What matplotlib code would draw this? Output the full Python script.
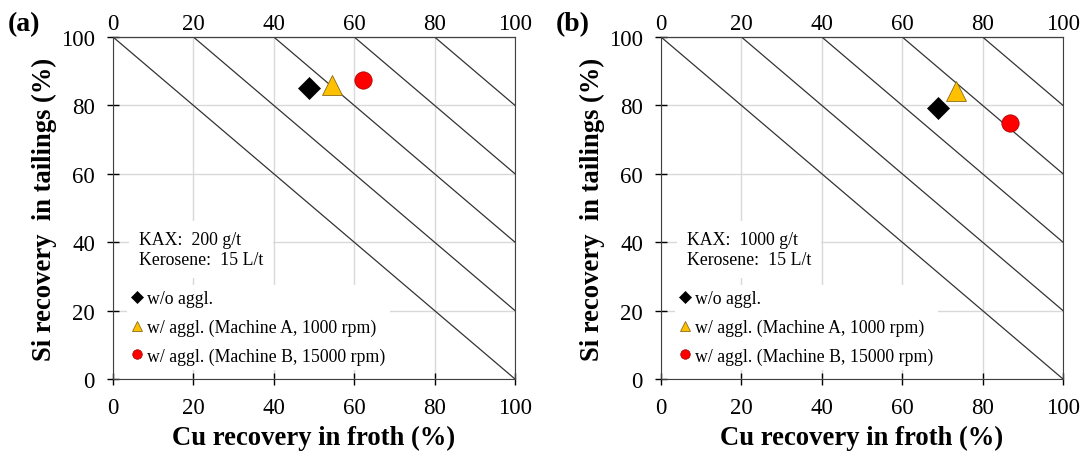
import numpy as np
from matplotlib import pyplot as plt

plt.rcParams['font.family'] = ['Liberation Serif', 'DejaVu Serif']

# data
panels = ['(a)', '(b)']
cond_text = ['KAX:  200 g/t\nKerosene:  15 L/t', 'KAX:  1000 g/t\nKerosene:  15 L/t']
labels = ['w/o aggl.', 'w/ aggl. (Machine A, 1000 rpm)', 'w/ aggl. (Machine B, 15000 rpm)']
cu_a = [48.8, 54.5, 62.2]
si_a = [85.2, 86.0, 87.4]
cu_b = [69.0, 73.5, 86.8]
si_b = [79.2, 84.2, 74.9]
diag_sums = [100, 120, 140, 160, 180]
ticks = [0, 20, 40, 60, 80, 100]

styles = [dict(marker='D', color='black', ms=11, mec='black', mew=0.5),
          dict(marker='^', color='#FFC000', ms=14, mec='#8a6d1a', mew=0.6),
          dict(marker='o', color='#FF0000', ms=12.5, mec='#a00000', mew=0.5)]

fig = plt.figure(figsize=(10.87, 4.52), dpi=100)
lefts = [113 / 1087, 661 / 1087]
w = 402 / 1087
b = 1 - 380 / 452
h = 342 / 452

for i, (cu, si) in enumerate([(cu_a, si_a), (cu_b, si_b)]):
    ax = fig.add_axes([lefts[i], b, w, h])
    ax.set_xlim(0, 100)
    ax.set_ylim(0, 100)
    ax.set_xticks(ticks)
    ax.set_yticks(ticks)
    ax.grid(color='#d9d9d9', lw=1)
    ax.set_axisbelow(True)
    for s in diag_sums:
        xs = np.array([s - 100, 100])
        ax.plot(xs, s - xs, color='#333333', lw=0.9, zorder=2)
    for j in range(3):
        ax.plot(cu[j], si[j], ls='none', label=labels[j], zorder=4, **styles[j])
    ax.tick_params(labelsize=16.5, direction='inout', length=8, width=1)
    ax.tick_params(axis='y', pad=9)
    ax.tick_params(axis='x', pad=9)
    for sp in ax.spines.values():
        sp.set_color('#404040')
    top = ax.secondary_xaxis('top')
    top.set_xticks(ticks)
    top.tick_params(labelsize=16.5, length=0, pad=2.5)
    ax.set_xlabel('Cu recovery in froth (%)', fontsize=19.2, fontweight='bold')
    ax.set_ylabel('Si recovery  in tailings (%)', fontsize=19.2, fontweight='bold')
    ax.xaxis.set_label_coords(0.5, -46 / 342)
    ax.yaxis.set_label_coords(-56 / 402, 0.5)
    ax.text(0.065, 0.434, cond_text[i], transform=ax.transAxes, fontsize=12.8,
            va='top', ha='left', linespacing=1.3,
            bbox=dict(facecolor='white', edgecolor='none', pad=7), zorder=5)
    leg = ax.legend(loc='lower left', bbox_to_anchor=(0.034, 0.026), fontsize=12.8,
                    markerscale=0.55, handlelength=0.6, handletextpad=0.22,
                    labelspacing=0.64, frameon=True, fancybox=False,
                    edgecolor='none', framealpha=1, borderpad=0.3,
                    borderaxespad=0)
    leg.set_zorder(5)
    fig.text(lefts[i] - 105 / 1087, 1 - 25 / 452, panels[i], fontsize=20,
             fontweight='bold', va='center', ha='left')

fig.savefig('out.png', dpi=100)
